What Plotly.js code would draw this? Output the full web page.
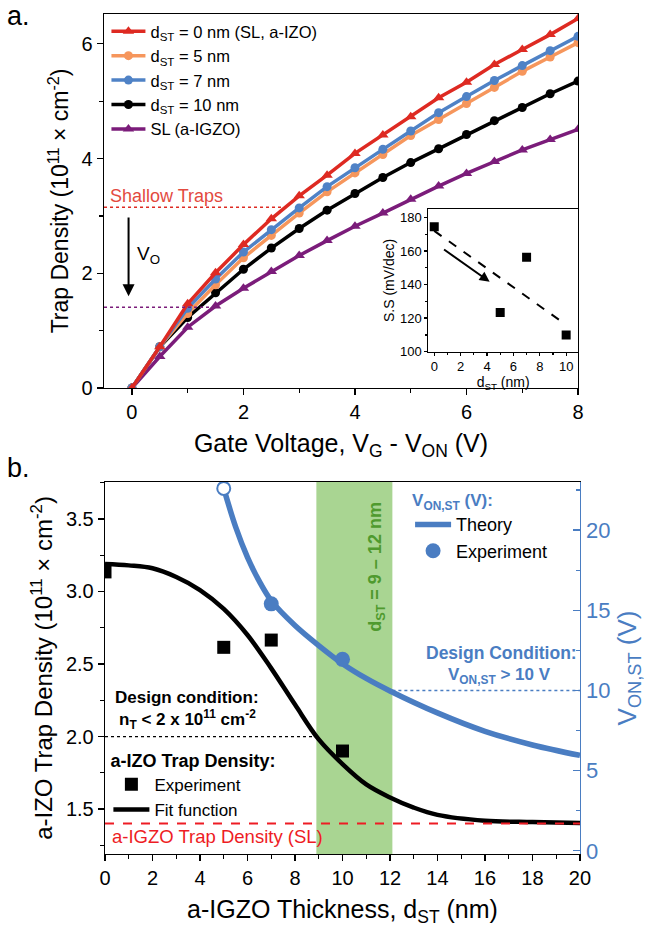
<!DOCTYPE html>
<html>
<head>
<meta charset="utf-8">
<script src="https://cdn.plot.ly/plotly-3.0.1.min.js"></script>
<style>html,body{margin:0;padding:0;background:#fff;}#chart{width:653px;height:931px;}</style>
</head>
<body>
<div id="chart"></div>
<script>
// ---------- Panel a: trap density vs gate voltage ----------
const gateVoltage = [0,0.5,1,1.5,2,2.5,3,3.5,4,4.5,5,5.5,6,6.5,7,7.5,8];
const trapD0  = [0,0.72,1.47,2.01,2.50,2.95,3.35,3.71,4.09,4.41,4.73,5.06,5.33,5.64,5.90,6.16,6.44];
const trapD5  = [0,0.72,1.30,1.80,2.27,2.66,3.05,3.42,3.75,4.07,4.40,4.68,4.96,5.24,5.52,5.77,6.02];
const trapD7  = [0,0.72,1.39,1.90,2.37,2.76,3.14,3.51,3.84,4.16,4.48,4.80,5.08,5.36,5.62,5.88,6.13];
const trapD10 = [0,0.72,1.23,1.66,2.07,2.44,2.78,3.10,3.39,3.67,3.93,4.17,4.42,4.66,4.89,5.13,5.35];
const trapSL  = [0,0.55,1.06,1.43,1.74,2.03,2.31,2.57,2.82,3.05,3.29,3.52,3.74,3.95,4.15,4.33,4.51];
const seriesNamesA = ['d<sub>ST</sub> = 0 nm (SL, a-IZO)','d<sub>ST</sub> = 5 nm','d<sub>ST</sub> = 7 nm','d<sub>ST</sub> = 10 nm','SL (a-IGZO)'];
const shallowTrapLevel = 3.15, shallowTrapEnd = 2.75;
const slTrapLevel = 1.41, slTrapEnd = 1.5;
const voArrowX = -0.06, voArrowTop = 3.0, voArrowTip = 1.6;

// inset: subthreshold swing
const insetThickness = [0,5,7,10];
const insetSS = [174.4,123.4,156.2,110];
const insetTrendX = [0,10];
const insetTrendY = [172,116];
const insetArrowFrom = [0.63,161.5];
const insetArrowTo = [4.2,141.7];

// ---------- Panel b ----------
const expThickness = [0,5,7,10];
const expTrapDensity = [3.135,2.615,2.665,1.90];
const fitThickness = [0,1,2,3,4,5,6,7,8,9,10,11,12,13,14,16,18,20];
const fitTrapDensity = [3.19,3.18,3.16,3.10,3.01,2.88,2.70,2.47,2.22,1.98,1.81,1.67,1.58,1.51,1.46,1.42,1.41,1.404];
const theoryThickness = [5,5.5,6,6.5,7,8,9,10,11,12,14,16,18,20];
const theoryVon = [22.6,20.2,18.3,16.8,15.6,14.05,12.8,11.67,10.75,9.97,8.6,7.45,6.6,5.95];
const expVonThickness = [7,10];
const expVon = [15.4,11.94];
const openPointThickness = [5];
const openPointVon = [22.6];
const slTrapDensityB = 1.4;
const designTrap = 2.0, designTrapEnd = 8.86;
const designVon = 10, designVonStart = 12.1;
const bandRange = [8.9, 12.1];

const RED = '#de2a22', ORANGE = '#f6965c', BLUE = '#4f82c6', PURPLE = '#7b1c7a';
const BBLUE = '#4a7dc2', GREEN = '#a9d592', GTEXT = '#4f9a2e';
const FONT = '"Liberation Sans", Arial, sans-serif';

const traces = [];
const colorsA = [RED, ORANGE, BLUE, 'black', PURPLE];
const symA = ['triangle-up','circle','circle','circle','triangle-up'];
const dataA = [trapD0, trapD5, trapD7, trapD10, trapSL];
const drawOrder = [4,3,1,2,0];
drawOrder.forEach(i => {
  traces.push({
    x: gateVoltage, y: dataA[i], xaxis:'x', yaxis:'y', type:'scatter', mode:'lines+markers',
    name: seriesNamesA[i], legend:'legend', legendrank: i+1,
    line:{color:colorsA[i], width:3.5}, marker:{symbol:symA[i], size:symA[i]==='circle'?9:10, color:colorsA[i]}
  });
});
// inset
traces.push({x:insetTrendX, y:insetTrendY, xaxis:'x2', yaxis:'y2', mode:'lines', showlegend:false,
  line:{color:'black', width:2, dash:'dash'}});
traces.push({x:insetThickness, y:insetSS, xaxis:'x2', yaxis:'y2', mode:'markers', showlegend:false,
  marker:{symbol:'square', size:9, color:'black'}});
// panel b
traces.push({x:fitThickness, y:fitTrapDensity, xaxis:'x3', yaxis:'y3', mode:'lines', name:'Fit function',
  legend:'legend2', legendrank:2, line:{color:'black', width:4.5, shape:'spline'}});
traces.push({x:expThickness, y:expTrapDensity, xaxis:'x3', yaxis:'y3', mode:'markers', name:'Experiment',
  legend:'legend2', legendrank:1, marker:{symbol:'square', size:13, color:'black'}});
traces.push({x:theoryThickness, y:theoryVon, xaxis:'x3', yaxis:'y4', mode:'lines', name:'Theory',
  legend:'legend3', legendrank:1, line:{color:BBLUE, width:5.5, shape:'spline'}});
traces.push({x:expVonThickness, y:expVon, xaxis:'x3', yaxis:'y4', mode:'markers', name:'Experiment',
  legend:'legend3', legendrank:2, marker:{symbol:'circle', size:15, color:BBLUE}});
traces.push({x:openPointThickness, y:openPointVon, xaxis:'x3', yaxis:'y4', mode:'markers', showlegend:false,
  marker:{symbol:'circle', size:13, color:'white', line:{color:BBLUE, width:2}}});

const axBase = {showline:true, linecolor:'black', linewidth:1.3, ticks:'outside', tickwidth:1.3, ticklen:6,
  showgrid:false, zeroline:false, tickcolor:'black'};

const layout = {
  width:653, height:931, margin:{l:0,r:0,t:0,b:0},
  paper_bgcolor:'white', plot_bgcolor:'rgba(0,0,0,0)',
  font:{family:FONT, size:16, color:'black'},
  showlegend:true,
  xaxis: Object.assign({}, axBase, {domain:[0.1593,0.8852], anchor:'y', range:[-0.5,8], mirror:true,
    tick0:0, dtick:2, minor:{ticks:'outside', ticklen:3.5, dtick:1, tickwidth:1.2},
    tickfont:{size:20}, title:{text:'Gate Voltage, V<sub>G</sub> - V<sub>ON</sub> (V)', font:{size:25}, standoff:12}}),
  yaxis: Object.assign({}, axBase, {domain:[0.5832,0.9850], anchor:'x', range:[0,6.52], mirror:true,
    tick0:0, dtick:2, minor:{ticks:'outside', ticklen:3.5, dtick:1, tickwidth:1.2},
    tickfont:{size:20}, title:{text:'Trap Density (10<sup>11</sup> × cm<sup>-2</sup>)', font:{size:23}, standoff:6}}),
  xaxis2: Object.assign({}, axBase, {domain:[0.6559,0.8852], anchor:'y2', range:[-0.45,10.9], mirror:true,
    linewidth:1, tick0:0, dtick:2, ticklen:3, minor:{ticks:'outside', ticklen:2, dtick:1},
    tickfont:{size:13}, title:{text:'d<sub>ST</sub> (nm)', font:{size:14}, standoff:2}}),
  yaxis2: Object.assign({}, axBase, {domain:[0.6222,0.7755], anchor:'x2', range:[100,185], mirror:true,
    linewidth:1, tick0:100, dtick:20, ticklen:3, minor:{ticks:'outside', ticklen:2, dtick:10},
    tickfont:{size:13}, title:{text:'S.S (mV/dec)', font:{size:14}, standoff:2}}),
  xaxis3: Object.assign({}, axBase, {domain:[0.1608,0.8882], anchor:'y3', range:[0,20], mirror:true,
    tick0:0, dtick:2, minor:{ticks:'outside', ticklen:4, dtick:1, tickwidth:1.2},
    tickfont:{size:20}, title:{text:'a-IGZO Thickness, d<sub>ST</sub> (nm)', font:{size:25}, standoff:12}}),
  yaxis3: Object.assign({}, axBase, {domain:[0.0827,0.4823], anchor:'x3', range:[1.19,3.755],
    tick0:0, dtick:0.5, tickformat:'.1f', minor:{ticks:'outside', ticklen:4, dtick:0.25, tickwidth:1.2},
    tickfont:{size:20}, title:{text:'a-IZO Trap Density (10<sup>11</sup> × cm<sup>-2</sup>)', font:{size:24}, standoff:6}}),
  yaxis4: {overlaying:'y3', anchor:'x3', side:'right', range:[-0.2,23], showline:true, linecolor:BBLUE, linewidth:1.5,
    showgrid:false, zeroline:false, ticks:'inside', ticklen:7, tickwidth:1.3, tickcolor:BBLUE, tick0:0, dtick:5,
    minor:{ticks:'inside', ticklen:4, dtick:2.5, tickcolor:BBLUE},
    tickfont:{size:22, color:BBLUE}, title:{text:'V<sub>ON,ST</sub> (V)', font:{size:26, color:BBLUE}, standoff:8}},
  legend:{x:0.163, y:0.985, xanchor:'left', yanchor:'top', bgcolor:'rgba(0,0,0,0)', font:{size:16.5},
    tracegroupgap:0, itemwidth:34, traceorder:'normal'},
  legend2:{x:0.166, y:0.2015, xanchor:'left', yanchor:'top', bgcolor:'rgba(0,0,0,0)', font:{size:17},
    title:{text:'<b>a-IZO Trap Density:</b>', font:{size:18}}, tracegroupgap:0, itemwidth:36},
  legend3:{x:0.628, y:0.48, xanchor:'left', yanchor:'top', bgcolor:'rgba(0,0,0,0)', font:{size:18},
    title:{text:'<b>V<sub>ON,ST</sub> (V):</b>', font:{size:17, color:BBLUE}}, tracegroupgap:0, itemwidth:36},
  shapes:[
    {type:'line', xref:'x', yref:'y', x0:-0.5, x1:shallowTrapEnd, y0:shallowTrapLevel, y1:shallowTrapLevel,
      line:{color:RED, width:1.5, dash:'dot'}},
    {type:'line', xref:'x', yref:'y', x0:-0.5, x1:slTrapEnd, y0:slTrapLevel, y1:slTrapLevel,
      line:{color:PURPLE, width:1.5, dash:'dot'}},
    {type:'rect', xref:'x3', yref:'y3 domain', x0:bandRange[0], x1:bandRange[1], y0:0, y1:1,
      fillcolor:GREEN, line:{width:0}, layer:'below'},
    {type:'line', xref:'x3', yref:'y3', x0:0, x1:20, y0:slTrapDensityB, y1:slTrapDensityB,
      line:{color:'#ee1c24', width:2, dash:'dash'}},
    {type:'line', xref:'x3', yref:'y3', x0:0, x1:designTrapEnd, y0:designTrap, y1:designTrap,
      line:{color:'black', width:1.3, dash:'dot'}},
    {type:'line', xref:'x3', yref:'y4', x0:designVonStart, x1:20, y0:designVon, y1:designVon,
      line:{color:BBLUE, width:1.5, dash:'dot'}}
  ],
  annotations:[
    {xref:'paper', yref:'paper', x:0.008, y:0.983, xanchor:'left', yanchor:'middle', text:'a.', showarrow:false, font:{size:27}},
    {xref:'paper', yref:'paper', x:0.008, y:0.497, xanchor:'left', yanchor:'middle', text:'b.', showarrow:false, font:{size:27}},
    {xref:'x', yref:'y', x:-0.42, y:3.34, xanchor:'left', text:'Shallow Traps', showarrow:false, font:{size:18, color:'#e34a3f'}},
    {xref:'x', yref:'y', x:0.05, y:2.32, xanchor:'left', text:'V<sub>O</sub>', showarrow:false, font:{size:19}},
    {xref:'x', yref:'y', axref:'x', ayref:'y', x:voArrowX, y:voArrowTip, ax:voArrowX, ay:voArrowTop, text:'',
      showarrow:true, arrowhead:2, arrowsize:1.2, arrowwidth:2, arrowcolor:'black'},
    {xref:'x2', yref:'y2', axref:'x2', ayref:'y2', x:insetArrowTo[0], y:insetArrowTo[1], ax:insetArrowFrom[0], ay:insetArrowFrom[1],
      text:'', showarrow:true, arrowhead:2, arrowsize:1, arrowwidth:2, arrowcolor:'black'},
    {xref:'x3', yref:'y3', x:11.45, y:3.17, text:'<b>d<sub>ST</sub> = 9 – 12 nm</b>', textangle:-90, showarrow:false,
      font:{size:18, color:GTEXT}},
    {xref:'x3', yref:'y3', x:0.34, y:2.27, xanchor:'left', text:'<b>Design condition:</b>', showarrow:false, font:{size:17}},
    {xref:'x3', yref:'y3', x:0.5, y:2.12, xanchor:'left', text:'<b>n<sub>T</sub> &lt; 2 x 10<sup>11</sup> cm<sup>-2</sup></b>', showarrow:false, font:{size:17}},
    {xref:'x3', yref:'y3', x:0.2, y:1.31, xanchor:'left', text:'a-IGZO Trap Density (SL)', showarrow:false, font:{size:18.5, color:'#ee1c24'}},
    {xref:'x3', yref:'y3', x:16.7, y:2.577, text:'<b>Design Condition:</b>', showarrow:false, font:{size:17.5, color:BBLUE}},
    {xref:'x3', yref:'y3', x:16.6, y:2.42, text:'<b>V<sub>ON,ST</sub> &gt; 10 V</b>', showarrow:false, font:{size:17, color:BBLUE}}
  ]
};

Plotly.newPlot('chart', traces, layout, {displayModeBar:false, staticPlot:true});
</script>
</body>
</html>
